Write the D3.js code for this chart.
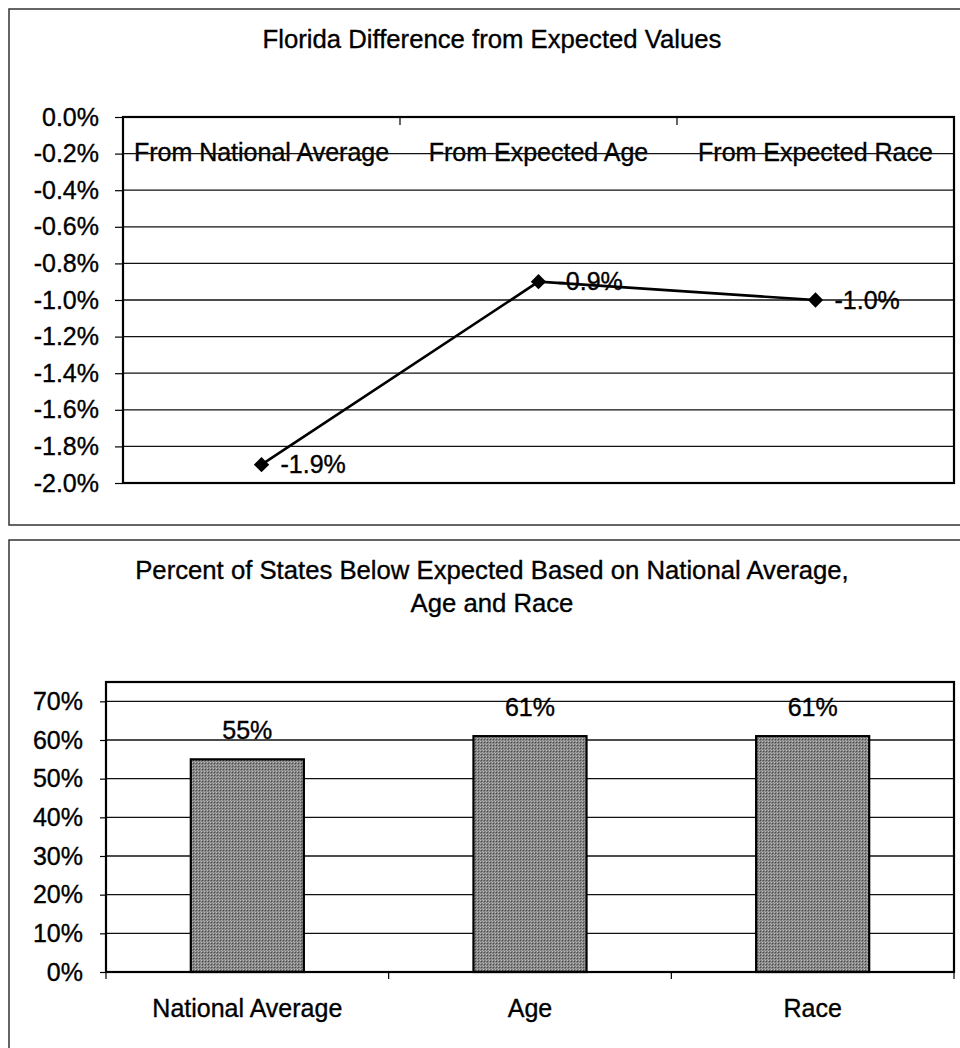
<!DOCTYPE html>
<html>
<head>
<meta charset="utf-8">
<script src="https://cdn.jsdelivr.net/npm/d3@7"></script>
<style>
  html, body { margin: 0; padding: 0; background: #fff; }
  svg { display: block; }
  text { font-family: Arial, "Liberation Sans", sans-serif; fill: #000; stroke: #000; stroke-width: 0.35px; }
</style>
</head>
<body>
<div id="chart"></div>
<script>
// Top panel: Florida difference from expected values (line)
const lineCategories = ['From National Average', 'From Expected Age', 'From Expected Race'];
const lineValues = [-0.019, -0.009, -0.010];
const lineTicks = [0, -0.002, -0.004, -0.006, -0.008, -0.010, -0.012, -0.014, -0.016, -0.018, -0.020];

// Bottom panel: percent of states below expected (bars)
const barCategories = ['National Average', 'Age', 'Race'];
const barValues = [0.55, 0.61, 0.61];
const barTicks = [0, 0.1, 0.2, 0.3, 0.4, 0.5, 0.6, 0.7];

const W = 960, H = 1048;
const TITLE_X = 492;
const TITLE_SIZE = '25.7px';
const LABEL_SIZE = '25px';
const locale = d3.formatLocale({ decimal: '.', thousands: ',', grouping: [3], currency: ['$', ''], minus: '-' });
const fmt1 = locale.format('.1%');
const fmt0 = locale.format('.0%');

const svg = d3.select('#chart').append('svg')
  .attr('width', W)
  .attr('height', H);

// bar halftone-ish fill
const pat = svg.append('defs').append('pattern')
  .attr('id', 'dither')
  .attr('patternUnits', 'userSpaceOnUse')
  .attr('width', 3).attr('height', 3);
pat.append('rect').attr('width', 3).attr('height', 3).attr('fill', '#828282');
pat.append('rect').attr('x', 0).attr('y', 0).attr('width', 1).attr('height', 1).attr('fill', '#bdbdbd');
pat.append('rect').attr('x', 1).attr('y', 1).attr('width', 1).attr('height', 1).attr('fill', '#4a4a4a');
pat.append('rect').attr('x', 2).attr('y', 2).attr('width', 1).attr('height', 1).attr('fill', '#a6a6a6');

// outer frames
svg.append('rect')
  .attr('x', 9).attr('y', 9).attr('width', 962).attr('height', 516)
  .attr('fill', 'none').attr('stroke', '#333').attr('stroke-width', 1.5);
svg.append('rect')
  .attr('x', 9).attr('y', 540).attr('width', 962).attr('height', 530)
  .attr('fill', 'none').attr('stroke', '#333').attr('stroke-width', 1.5);

// ---------- top: line chart ----------
{
  const M = { left: 123, right: 954, top: 117, bottom: 483 };
  const g = svg.append('g');

  g.append('text')
    .attr('x', TITLE_X).attr('y', 48)
    .attr('text-anchor', 'middle')
    .style('font-size', TITLE_SIZE)
    .text('Florida Difference from Expected Values');

  const x = d3.scaleBand().domain(lineCategories).range([M.left, M.right]);
  const y = d3.scaleLinear().domain([0, -0.02]).range([M.top, M.bottom]);

  // y axis
  g.append('g')
    .attr('transform', `translate(${M.left},0)`)
    .call(d3.axisLeft(y).tickValues(lineTicks).tickFormat(fmt1).tickSize(8).tickPadding(16))
    .call(a => a.select('.domain').remove())
    .call(a => a.selectAll('line').attr('stroke', '#000').attr('stroke-width', 1.2))
    .selectAll('text').style('font-size', LABEL_SIZE);

  // category labels just under the zero line
  g.append('g')
    .attr('transform', `translate(0,${y(0)})`)
    .call(d3.axisBottom(x).tickSize(0).tickPadding(26))
    .call(a => a.select('.domain').remove())
    .selectAll('text').style('font-size', LABEL_SIZE);

  // gridlines
  g.append('g')
    .selectAll('line')
    .data(lineTicks.filter(t => t !== 0 && t !== -0.02))
    .join('line')
    .attr('x1', M.left).attr('x2', M.right)
    .attr('y1', d => y(d)).attr('y2', d => y(d))
    .attr('stroke', '#111').attr('stroke-width', 1.3);

  // category boundary ticks on the top axis
  g.append('g')
    .selectAll('line')
    .data(lineCategories.slice(1))
    .join('line')
    .attr('x1', d => x(d)).attr('x2', d => x(d))
    .attr('y1', y(0)).attr('y2', y(0) + 8)
    .attr('stroke', '#000').attr('stroke-width', 1.2);

  // plot border
  g.append('rect')
    .attr('x', M.left).attr('y', M.top)
    .attr('width', M.right - M.left).attr('height', M.bottom - M.top)
    .attr('fill', 'none').attr('stroke', '#000').attr('stroke-width', 2.2);

  const pts = lineCategories.map((c, i) => ({ c, v: lineValues[i] }));
  const cx = d => x(d.c) + x.bandwidth() / 2;

  g.append('path')
    .datum(pts)
    .attr('fill', 'none')
    .attr('stroke', '#000')
    .attr('stroke-width', 2.6)
    .attr('d', d3.line().x(cx).y(d => y(d.v)));

  g.selectAll('.marker')
    .data(pts)
    .join('path')
    .attr('class', 'marker')
    .attr('transform', d => `translate(${cx(d)},${y(d.v)})`)
    .attr('d', d3.symbol(d3.symbolDiamond2, 150))
    .attr('fill', '#000');

  g.selectAll('.lbl')
    .data(pts)
    .join('text')
    .attr('class', 'lbl')
    .attr('x', d => cx(d) + 19)
    .attr('y', d => y(d.v))
    .attr('dy', '0.35em')
    .style('font-size', LABEL_SIZE)
    .text(d => fmt1(d.v));
}

// ---------- bottom: bar chart ----------
{
  const M = { left: 106, right: 954, top: 682, bottom: 972 };
  const g = svg.append('g');

  g.append('text')
    .attr('x', TITLE_X).attr('y', 579)
    .attr('text-anchor', 'middle')
    .style('font-size', TITLE_SIZE)
    .text('Percent of States Below Expected Based on National Average,');
  g.append('text')
    .attr('x', TITLE_X).attr('y', 612)
    .attr('text-anchor', 'middle')
    .style('font-size', TITLE_SIZE)
    .text('Age and Race');

  const x = d3.scaleBand().domain(barCategories).range([M.left, M.right]).paddingInner(0.6).paddingOuter(0.3);
  const xc = d3.scaleBand().domain(barCategories).range([M.left, M.right]);
  const y = d3.scaleLinear().domain([0, 0.75]).range([M.bottom, M.top]);

  g.append('g')
    .attr('transform', `translate(${M.left},0)`)
    .call(d3.axisLeft(y).tickValues(barTicks).tickFormat(fmt0).tickSize(6).tickPadding(17))
    .call(a => a.select('.domain').remove())
    .call(a => a.selectAll('line').attr('stroke', '#000').attr('stroke-width', 1.2))
    .selectAll('text').style('font-size', LABEL_SIZE);

  g.append('g')
    .attr('transform', `translate(0,${M.bottom})`)
    .call(d3.axisBottom(xc).tickSize(0).tickPadding(27))
    .call(a => a.select('.domain').remove())
    .selectAll('text').style('font-size', LABEL_SIZE);

  g.append('g')
    .selectAll('line')
    .data(barTicks.filter(t => t !== 0))
    .join('line')
    .attr('x1', M.left).attr('x2', M.right)
    .attr('y1', d => y(d)).attr('y2', d => y(d))
    .attr('stroke', '#111').attr('stroke-width', 1.3);

  // boundary ticks below the axis
  g.append('g')
    .selectAll('line')
    .data([...barCategories.map(c => xc(c)), M.right])
    .join('line')
    .attr('x1', d => d).attr('x2', d => d)
    .attr('y1', M.bottom).attr('y2', M.bottom + 7)
    .attr('stroke', '#000').attr('stroke-width', 1.2);

  g.selectAll('.bar')
    .data(barCategories.map((c, i) => ({ c, v: barValues[i] })))
    .join('rect')
    .attr('class', 'bar')
    .attr('x', d => x(d.c))
    .attr('y', d => y(d.v))
    .attr('width', x.bandwidth())
    .attr('height', d => y(0) - y(d.v))
    .attr('fill', 'url(#dither)')
    .attr('stroke', '#000')
    .attr('stroke-width', 2.2);

  g.selectAll('.blbl')
    .data(barCategories.map((c, i) => ({ c, v: barValues[i] })))
    .join('text')
    .attr('class', 'blbl')
    .attr('x', d => x(d.c) + x.bandwidth() / 2)
    .attr('y', d => y(d.v) - 20)
    .attr('text-anchor', 'middle')
    .style('font-size', LABEL_SIZE)
    .text(d => fmt0(d.v));

  g.append('rect')
    .attr('x', M.left).attr('y', M.top)
    .attr('width', M.right - M.left).attr('height', M.bottom - M.top)
    .attr('fill', 'none').attr('stroke', '#000').attr('stroke-width', 2.2);
}
</script>
</body>
</html>
